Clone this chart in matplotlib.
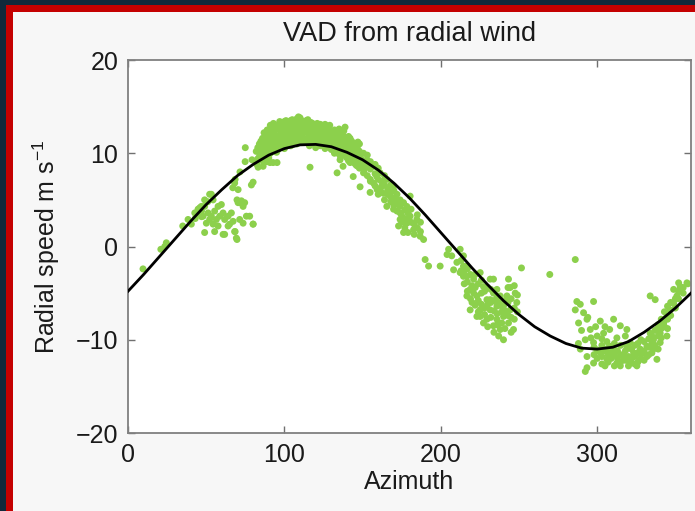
import numpy as np
import matplotlib
matplotlib.use("Agg")
import matplotlib.pyplot as plt
from matplotlib.patches import Rectangle

plt.rcParams['font.family'] = ['Liberation Sans', 'DejaVu Sans']
plt.rcParams['mathtext.fontset'] = 'custom'
plt.rcParams['mathtext.rm'] = 'Liberation Sans'
plt.rcParams['mathtext.it'] = 'Liberation Sans:italic'

# VAD fit curve, read every 10 degrees of azimuth
fit_az = list(range(0, 361, 10))
fit_speed = [-4.8, -3.0, -1.1, 0.8, 2.7, 4.5, 6.1, 7.6, 8.8, 9.8, 10.5, 10.9,
             10.95, 10.7, 10.1, 9.3, 8.2, 6.8, 5.2, 3.4, 1.5, -0.4, -2.3, -4.1,
             -5.8, -7.3, -8.6, -9.6, -10.4, -10.9, -11.0, -10.8, -10.2, -9.2,
             -8.0, -6.6, -5.0]

# radial wind observations (azimuth, speed)
rise_az = [9.6, 21, 23.5, 24.5, 35, 38.4, 40.5, 42.7, 44.8, 46.9, 49, 53.3, 51, 47, 43,
           67, 68.5, 71.6, 74.9, 79.3, 80, 86.4, 92.8, 88.9, 83.2, 75]
rise_v = [-2.4, -0.3, 0.0, 0.4, 2.2, 2.9, 2.4, 3.6, 4.0, 4.3, 5.0, 5.6, 4.8, 3.2, 3.0,
          6.3, 7.2, 8.0, 9.1, 9.3, 6.9, 8.6, 9.0, 9.1, 8.5, 10.6]

low_az = [44.8, 45.9, 48, 49, 50.1, 51.2, 52.2, 53.3, 54.4, 55.4, 56.5, 57.6, 58.6,
          59.7, 60.8, 61.8, 61.8, 64, 65, 66.1, 67.2, 68.2, 69.3, 70.4, 71.4, 72.5,
          73.6, 74.6, 75.7, 77.8, 80, 68.2, 70.4, 78.9, 52.2, 54.4, 57.6, 49, 47,
          55.4, 64, 68.5, 69.7, 80, 60.8, 69.7, 71.7, 73.6]
low_v = [3.6, 4.15, 3.25, 1.5, 2.5, 3.6, 2.9, 3.25, 2.4, 3.8, 2.9, 2.2, 3.25,
         4.5, 3.6, 2.9, 1.3, 3.25, 2.4, 3.6, 2.7, 1.6, 0.9, 4.7, 2.9, 4.9,
         2.5, 4.7, 3.25, 3.25, 2.4, 6.8, 6.1, 6.6, 5.6, 5.0, 4.3, 4.3, 3.8,
         1.6, 2.2, 1.6, 0.75, 2.4, 1.3, 5.0, 4.7, 4.3]

peak_az = [82, 82, 84, 84, 84, 86, 86, 86, 88, 88, 88, 90, 90, 90, 90, 92, 92, 92,
           94, 94, 94, 94, 96, 96, 96, 98, 98, 98, 100, 100, 100, 100, 102, 102, 102,
           104, 104, 104, 104, 106, 106, 106, 108, 108, 108, 108, 110, 110, 110,
           112, 112, 112, 114, 114, 114, 116, 116, 116, 118, 118, 118,
           120, 120, 120, 120, 122, 122, 122, 124, 124, 124, 126, 126, 126, 126,
           128, 128, 128, 130, 130, 130, 132, 132, 132, 132, 134, 134, 134,
           136, 136, 136, 138, 138, 138, 138, 140, 140, 140, 142, 142, 142, 142,
           144, 144, 144, 146, 146, 146, 148, 148, 148, 148,
           84.4, 82.5, 90.8, 95.3, 116.4, 133.7, 135.6, 137.5, 144, 148.4, 154.8,
           159.3, 110, 138.8]
peak_v = [9.0, 10.2, 9.6, 11.0, 10.3, 9.2, 10.5, 11.6, 10.0, 11.2, 12.0, 9.5, 10.8,
          12.3, 11.5, 10.2, 11.7, 12.8, 10.6, 12.0, 13.0, 11.2, 10.4, 11.5, 12.6,
          10.9, 12.2, 13.2, 10.5, 11.6, 12.8, 13.4, 11.0, 12.3, 13.0,
          10.8, 11.8, 12.6, 13.5, 11.3, 12.4, 13.1, 11.0, 12.0, 12.8, 13.7,
          11.4, 12.5, 13.3, 11.2, 12.2, 13.0, 11.5, 12.7, 13.5, 10.8, 11.9, 12.9,
          11.3, 12.4, 13.2, 10.6, 11.6, 12.6, 13.0, 11.2, 12.1, 12.9, 10.9, 11.8,
          12.7, 10.5, 11.5, 12.3, 13.1, 11.1, 12.0, 12.6, 10.4, 11.4, 12.2,
          10.0, 11.0, 11.9, 12.5, 10.6, 11.5, 12.2, 9.6, 10.4, 11.2,
          10.1, 10.9, 11.8, 12.4, 9.5, 10.3, 11.2, 9.0, 10.0, 10.8, 11.6,
          9.4, 10.4, 11.0, 8.7, 9.6, 10.5, 8.4, 9.3, 10.2, 11.0,
          9.7, 8.8, 9.0, 9.0, 8.5, 7.9, 9.3, 8.6, 7.5, 6.4, 5.8, 6.1, 13.8, 12.8]

fall_az = [150.6, 152.7, 150.6, 157, 157, 161.2, 161.2, 165.5, 165.5, 169.8, 171.9,
           174, 176.2, 178.3, 180.4, 182.6, 184.7, 186.8, 189, 173, 176.2, 180.4,
           190, 192.2, 199.6, 205, 207, 210.3, 212.4, 208.2, 216.7, 214.5, 204,
           149.5, 154.9, 159.1, 163.4, 167.7, 169.8, 174, 178.3]
fall_v = [10.0, 9.3, 7.9, 8.6, 6.8, 7.9, 6.1, 7.2, 4.3, 6.5, 5.0,
          3.6, 4.7, 2.5, 3.25, 1.8, 2.9, 1.1, 0.75, 2.2, 1.5, 5.4,
          -1.4, -2.1, -2.1, -0.3, -1.0, -1.7, -2.8, -2.5, -2.1, -3.2, -0.86,
          8.9, 7.2, 7.5, 5.7, 5.4, 4.0, 2.9, 4.3]

trough_az = [214.5, 216.7, 218.8, 221, 223.1, 225.2, 225.2, 227.3, 229.5, 229.5,
             231.6, 231.6, 233.7, 233.7, 235.9, 235.9, 238, 240.1, 240.1, 242.3,
             243.3, 244.4, 246.5, 247.6, 248.6, 243.3, 244.4, 233.7, 235.9, 221,
             216.7, 218.8, 223.1, 227.3, 212.4, 214.5, 225.2, 238, 231.6, 240.1,
             251.6, 269.7, 286]
trough_v = [-2.1, -3.2, -4.6, -3.5, -5.3, -2.8, -6.8, -4.3, -5.7, -7.8,
            -3.5, -6.8, -5.0, -8.5, -6.4, -7.8, -8.9, -7.5, -10.0, -5.3,
            -8.2, -6.8, -8.9, -5.0, -6.0, -3.5, -4.4, -3.5, -4.6, -5.0,
            -5.3, -6.8, -7.5, -8.2, -0.3, -1.0, -7.5, -5.3, -5.7, -6.4,
            -2.3, -3.0, -1.4]

end_az = [287, 289.2, 286, 291.3, 297.7, 293.5, 288.1, 295.6, 302, 300, 304.1,
          310.5, 314.8, 319, 292.4, 297.7, 306.2, 312.6, 321.1, 333.9, 337.1,
          289.2, 293.5, 297.7, 302, 306.2, 310.5, 312.6, 316.9, 319, 321.1, 323.3,
          327.5, 327.5, 331.8, 331.8, 336, 336, 338.2, 340.3, 340.3, 342.5, 344.6,
          344.6, 346.7, 348.9, 351, 348.9, 353.1, 357.4, 352.1, 293.5, 292.4,
          325.4, 314.8, 329.6, 308.4, 333.9, 338.2]
end_v = [-5.9, -6.2, -6.8, -7.1, -5.9, -7.8, -8.2, -8.9, -8.0, -9.6, -9.3,
         -7.8, -8.5, -8.9, -10.0, -10.3, -10.2, -9.8, -10.3, -5.3, -5.7,
         -11.0, -11.8, -12.5, -11.4, -12.1, -11.0, -12.5, -11.8, -10.7, -12.5, -11.4,
         -11.0, -12.1, -10.7, -11.8, -10.0, -11.0, -12.1, -9.3, -10.3, -8.2, -9.6,
         -7.5, -6.8, -6.1, -5.3, -4.6, -4.3, -3.9, -3.9, -13.0, -13.4,
         -12.8, -12.8, -11.4, -10.7, -9.3, -8.9]

# denser parts of the clouds: azimuth -> speeds seen at that azimuth
peak_dense = {83: [9.4, 10.6], 85: [10.0, 11.3, 9.3], 87: [9.8, 10.9, 12.2],
              89: [10.4, 11.6, 12.5, 9.6], 91: [10.0, 11.1, 12.0, 13.0],
              93: [10.6, 11.4, 12.4, 13.2], 95: [10.1, 11.0, 11.9, 12.8],
              97: [10.7, 11.8, 12.9, 13.4], 99: [11.2, 12.0, 12.6],
              101: [10.9, 11.9, 12.7, 13.5], 103: [11.4, 12.2, 13.3],
              105: [10.9, 12.0, 12.8, 13.6], 107: [11.6, 12.6, 13.4],
              109: [11.2, 12.3, 13.0, 13.9], 111: [11.8, 12.8, 13.5],
              113: [11.5, 12.4, 13.2], 115: [11.2, 12.1, 13.0, 13.6],
              117: [11.6, 12.6, 13.3], 119: [11.0, 12.0, 12.8],
              121: [11.4, 12.4, 13.2], 123: [10.8, 11.6, 12.5, 13.1],
              125: [11.2, 12.0, 12.9], 127: [10.8, 11.8, 12.5],
              129: [10.6, 11.6, 12.4, 13.0], 131: [10.8, 11.6, 12.3],
              133: [10.2, 11.2, 12.0], 135: [9.9, 10.9, 11.8, 12.6],
              137: [10.3, 11.1, 12.0], 139: [9.8, 10.6, 11.5],
              141: [9.2, 10.1, 11.0, 11.8], 143: [9.6, 10.6, 11.3],
              145: [8.9, 9.9, 10.8], 147: [8.6, 9.5, 10.4, 11.2], 149: [8.5, 9.4, 10.0]}
fall_dense = {151: [9.0, 8.2], 153: [8.6, 9.8, 7.6], 155: [8.3, 7.0, 9.1],
              158: [7.8, 8.8, 6.5], 160: [7.2, 8.4, 5.6], 162: [7.0, 6.4],
              164: [6.6, 7.6, 5.0], 166: [6.2, 5.6], 168: [5.8, 4.8, 6.6],
              170: [5.2, 4.4, 6.0], 172: [4.6, 3.8, 5.6], 174: [4.3, 5.0],
              175: [3.3, 2.6], 177: [3.9, 3.0, 2.0], 179: [3.6, 2.8, 1.5],
              181: [2.6, 4.0], 183: [2.4, 1.3], 185: [2.0, 3.4], 187: [1.6, 2.6]}
trough_dense = {213: [-1.5, -2.6], 215: [-2.6, -4.0], 217: [-2.4, -3.8, -4.8],
                219: [-3.0, -5.6], 220: [-4.2, -6.0], 222: [-3.0, -4.4, -6.3],
                224: [-4.0, -5.8, -7.0], 226: [-3.6, -5.0, -6.2],
                228: [-4.8, -6.6, -7.3], 230: [-4.4, -6.2, -8.6],
                232: [-4.6, -6.0, -7.6], 234: [-5.8, -6.9, -9.2],
                236: [-5.4, -7.2, -8.4], 237: [-6.0, -9.6], 239: [-6.4, -7.0, -8.2],
                241: [-5.8, -6.9, -8.8], 243: [-4.4, -6.0, -7.4],
                245: [-5.6, -7.6, -9.2], 247: [-6.6, -7.8, -4.2], 249: [-5.2, -7.0]}
end_dense = {288: [-10.4], 290: [-9.0], 294: [-7.6], 296: [-9.8], 298: [-11.6, -10.8],
             299: [-8.6], 300: [-12.0, -11.1], 303: [-12.6, -11.8, -10.6, -9.9],
             305: [-11.2, -12.8, -8.6], 307: [-11.6, -10.9, -12.4], 308: [-8.9],
             309: [-12.0, -11.3], 311: [-11.6, -12.8, -10.4], 313: [-11.2, -12.0],
             315: [-11.6, -12.4, -10.6], 318: [-11.2, -12.2, -9.6],
             320: [-11.8, -10.9, -12.8], 322: [-11.0, -12.0],
             324: [-10.6, -11.8, -12.6], 326: [-10.4, -11.4, -12.4],
             328: [-10.0, -11.6], 330: [-10.2, -11.2, -12.2],
             333: [-9.9, -10.8, -11.6], 335: [-9.6, -10.4, -11.4], 337: [-9.0, -10.6],
             339: [-8.4, -9.6, -11.0], 341: [-7.8, -8.8, -9.8], 343: [-7.0, -8.6],
             345: [-6.4, -7.8, -8.8], 347: [-6.0, -7.4], 350: [-5.6, -6.6],
             352: [-4.8, -5.6], 355: [-4.4, -5.0], 358: [-4.0]}

obs_az = rise_az + low_az + peak_az + fall_az + trough_az + end_az
obs_v = rise_v + low_v + peak_v + fall_v + trough_v + end_v
for group in (peak_dense, fall_dense, trough_dense, end_dense):
    for a, speeds in group.items():
        obs_az += [a] * len(speeds)
        obs_v += speeds

W, H = 695, 511
fig = plt.figure(figsize=(W / 100, H / 100), dpi=100)
fig.patch.set_facecolor('#10293b')
# slide frame: red border and light panel
fig.add_artist(Rectangle((6 / W, 0), 1, 1 - 5 / H, transform=fig.transFigure,
                         facecolor='#c40000', edgecolor='none', zorder=0))
fig.add_artist(Rectangle((12.7 / W, 0), 1, 1 - 11.7 / H, transform=fig.transFigure,
                         facecolor='#f7f7f7', edgecolor='none', zorder=0))

ax = fig.add_axes([128 / W, 1 - 433 / H, (691 - 128) / W, (433 - 60) / H])
ax.set_facecolor('white')

ax.scatter(obs_az, obs_v, s=25, color='#8cd04c', edgecolors='none', zorder=2)
ax.plot(fit_az, fit_speed, color='black', lw=2.0, zorder=3)

ax.set_xlim(0, 360)
ax.set_ylim(-20, 20)
ax.set_xticks([0, 100, 200, 300])
ax.set_yticks([-20, -10, 0, 10, 20])

for s in ax.spines.values():
    s.set_color('#808080')
    s.set_linewidth(1.3)
ax.tick_params(direction='in', top=True, right=True, length=5, width=1,
               color='#707070', labelsize=18, labelcolor='#1a1a1a', pad=7)

ax.set_title('VAD from radial wind', fontsize=19.5, color='#1a1a1a', pad=14)
ax.set_xlabel('Azimuth', fontsize=18, color='#1a1a1a', labelpad=2)
ax.set_ylabel(r'Radial speed m s$^{-1}$', fontsize=18, color='#1a1a1a', labelpad=10)

fig.savefig('out.png', dpi=100, facecolor=fig.get_facecolor())
